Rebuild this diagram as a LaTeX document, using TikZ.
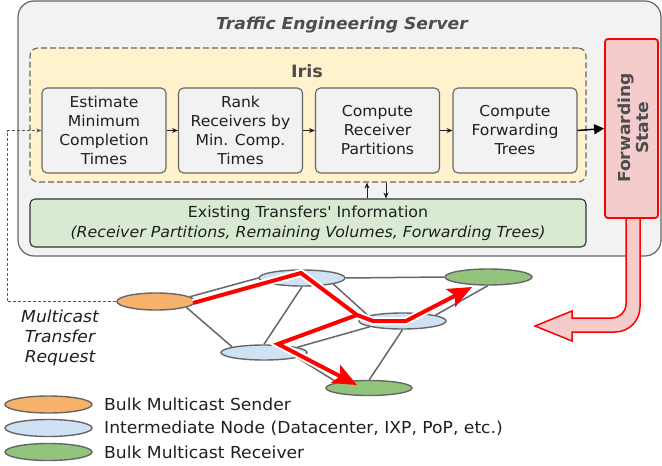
\documentclass[tikz,border=0pt]{standalone}
\usepackage{fontspec}
\setmainfont[FakeStretch=1.04]{DejaVu Sans}
\usetikzlibrary{shapes.geometric,arrows.meta}
\definecolor{edgegray}{HTML}{666666}
\definecolor{serverfill}{HTML}{F2F2F2}
\definecolor{irisfill}{HTML}{FFF2CC}
\definecolor{infofill}{HTML}{D9EAD3}
\definecolor{fwfill}{HTML}{F4CCCC}
\definecolor{titlegray}{HTML}{4D4D4D}
\definecolor{textdark}{HTML}{1F1F1F}
\definecolor{sendfill}{HTML}{F6B26B}
\definecolor{interfill}{HTML}{CFE2F3}
\definecolor{recvfill}{HTML}{93C47D}
\definecolor{pathred}{HTML}{FF0000}
\begin{document}
\begin{tikzpicture}[x=1pt,y=1pt,
  stepbox/.style={draw=edgegray, line width=1.1pt, fill=serverfill, rounded corners=5pt,
    minimum width=124pt, minimum height=85pt, inner sep=0pt, align=center,
    font=\fontsize{15}{19}\selectfont, text=textdark},
  netnode/.style={ellipse, draw=edgegray, line width=1.4pt, inner sep=0pt,
    minimum width=86pt, minimum height=16pt},
  netedge/.style={draw=edgegray, line width=1.5pt},
  casing/.style={draw=white, line width=8pt},
  redpath/.style={draw=pathred, line width=4pt},
  redhead/.style={-{Stealth[length=24pt,width=20pt,inset=5pt]}},
  smallarrow/.style={-{Stealth[length=6pt,width=5pt]}, line width=0.8pt, draw=textdark},
  legendtext/.style={anchor=west, font=\fontsize{16.5}{20}\selectfont, text=textdark, inner sep=0pt}
]
\useasboundingbox (0,0) rectangle (662,-466);

% Server box
\node[draw=edgegray, line width=1.2pt, fill=serverfill, rounded corners=16pt,
  minimum width=643pt, minimum height=255pt, inner sep=0pt] (server) at (339.5,-128.5) {};
\node[font=\fontsize{16.5}{20}\selectfont\bfseries\itshape, text=titlegray] (title) at (342,-25) {Traffic Engineering Server};

% Iris box
\node[draw=edgegray, line width=1.1pt, dash pattern=on 6pt off 3pt, fill=irisfill, rounded corners=8pt,
  minimum width=556pt, minimum height=134pt, inner sep=0pt] (iris) at (308,-115) {};
\node[font=\fontsize{17}{20}\selectfont\bfseries, text=titlegray] (iristitle) at (307,-71) {Iris};

% Steps
\node[stepbox] (b1) at (104,-130.5) {Estimate\\Minimum\\Completion\\Times};
\node[stepbox] (b2) at (240.5,-130.5) {Rank\\Receivers by\\Min. Comp.\\Times};
\node[stepbox] (b3) at (377.5,-130.5) {Compute\\Receiver\\Partitions};
\node[stepbox] (b4) at (515,-130.5) {Compute\\Forwarding\\Trees};

\draw[smallarrow] (b1.east) -- (b2.west);
\draw[smallarrow] (b2.east) -- (b3.west);
\draw[smallarrow] (b3.east) -- (b4.west);

% Existing transfers
\node[draw=black!80, line width=1.1pt, fill=infofill, rounded corners=5pt,
  minimum width=556pt, minimum height=48pt, inner sep=0pt, align=center,
  font=\fontsize{15.2}{20}\selectfont, text=textdark] (info) at (308,-223)
  {Existing Transfers\textquotesingle\ Information\\\textit{(Receiver Partitions, Remaining Volumes, Forwarding Trees)}};

\coordinate (upx) at (367,0);
\coordinate (dnx) at (386,0);
\draw[smallarrow] (info.north -| upx) -- (iris.south -| upx);
\draw[smallarrow] (iris.south -| dnx) -- (info.north -| dnx);

% Forwarding state arrow (big bent arrow)
\draw[draw=pathred, fill=fwfill, line width=1.5pt, line join=miter]
  (626,-214) -- (626,-304) arc[start angle=0, end angle=-90, radius=14]
  -- (572,-318) -- (572,-311) -- (535,-326) -- (572,-341) -- (572,-332)
  -- (615,-332) arc[start angle=-90, end angle=0, radius=25] -- (640,-214) -- cycle;

% Forwarding state box
\node[draw=pathred, line width=1.8pt, fill=fwfill, rounded corners=3pt,
  minimum width=53pt, minimum height=179pt, inner sep=0pt] (fs) at (631.5,-128.5) {};
\node[rotate=90, align=center, font=\fontsize{16.5}{18}\selectfont\bfseries, text=titlegray] (fstext) at (633,-128) {Forwarding\\State};

\draw[-{Triangle[length=10pt,width=10pt]}, line width=1.5pt, draw=black] (b4.east) -- (fs.west);

% Network edges (under the nodes)
\coordinate (snd0) at (156,-301.5);
\coordinate (ti0) at (302,-278);
\coordinate (rr0) at (488.5,-277);
\coordinate (mi0) at (402.5,-321);
\coordinate (bi0) at (264,-352.5);
\coordinate (br0) at (369,-388);

% Network nodes
\node[netnode, fill=sendfill, minimum width=78pt, minimum height=17pt] (snd) at (snd0) {};
\node[netnode, fill=interfill] (ti) at (ti0) {};
\node[netnode, fill=recvfill, minimum width=87pt] (rr) at (rr0) {};
\node[netnode, fill=interfill, minimum width=87pt] (mi) at (mi0) {};
\node[netnode, fill=interfill, minimum height=15pt] (bi) at (bi0) {};
\node[netnode, fill=recvfill, minimum height=15pt] (br) at (br0) {};

\draw[netedge] (snd.8) -- (ti.180);
\draw[netedge] (snd.-11) -- (bi.170);
\draw[netedge] (ti.-90) -- (bi.90);
\draw[netedge] (ti.0) -- (rr.180);
\draw[netedge] (ti.-11) -- (mi.171);
\draw[netedge] (mi.10) -- (rr.-95);
\draw[netedge] (bi.9) -- (mi.190);
\draw[netedge] (bi.-9) -- (br.170);
\draw[netedge] (mi.-90) -- (br.88);

% Request dashed line
\coordinate (fb) at (7,-200);
\draw[draw=black!65, line width=0.8pt, dash pattern=on 3pt off 2pt, -{Stealth[length=5pt,width=4pt]}]
  (snd.west) -| (fb) |- (b1.west);
\node[align=center, font=\fontsize{16.5}{20}\selectfont\itshape, text=textdark] (req) at (60,-338)
  {Multicast\\Transfer\\Request};

% Red forwarding trees
\coordinate (ra) at (193,-303);
\coordinate (rb) at (301,-273);
\coordinate (rc) at (357,-315);
\coordinate (rd) at (373,-321);
\coordinate (re) at (406,-321);
\coordinate (rf) at (472,-287);
\coordinate (rg) at (278,-344);
\coordinate (rh) at (357,-385);
\draw[casing, shorten >=16pt] (ra) -- (rb) -- (rc) -- (rd) -- (re) -- (rf);
\draw[casing, shorten >=16pt] (rc) -- (rg) -- (rh);
\draw[redpath, redhead] (ra) -- (rb) -- (rc) -- (rd) -- (re) -- (rf);
\draw[redpath, redhead] (rc) -- (rg) -- (rh);

% Legend
\node[netnode, fill=sendfill, minimum width=87pt, minimum height=17pt] (lg1) at (48.5,-404.5) {};
\node[netnode, fill=interfill, minimum width=87pt, minimum height=17pt] (lg2) at (48.5,-428) {};
\node[netnode, fill=recvfill, minimum width=87pt, minimum height=17pt] (lg3) at (48.5,-452) {};
\node[legendtext] (lt1) at (104,-404.5) {Bulk Multicast Sender};
\node[legendtext] (lt2) at (104,-428) {Intermediate Node (Datacenter, IXP, PoP, etc.)};
\node[legendtext] (lt3) at (104,-452) {Bulk Multicast Receiver};
\end{tikzpicture}
\end{document}
